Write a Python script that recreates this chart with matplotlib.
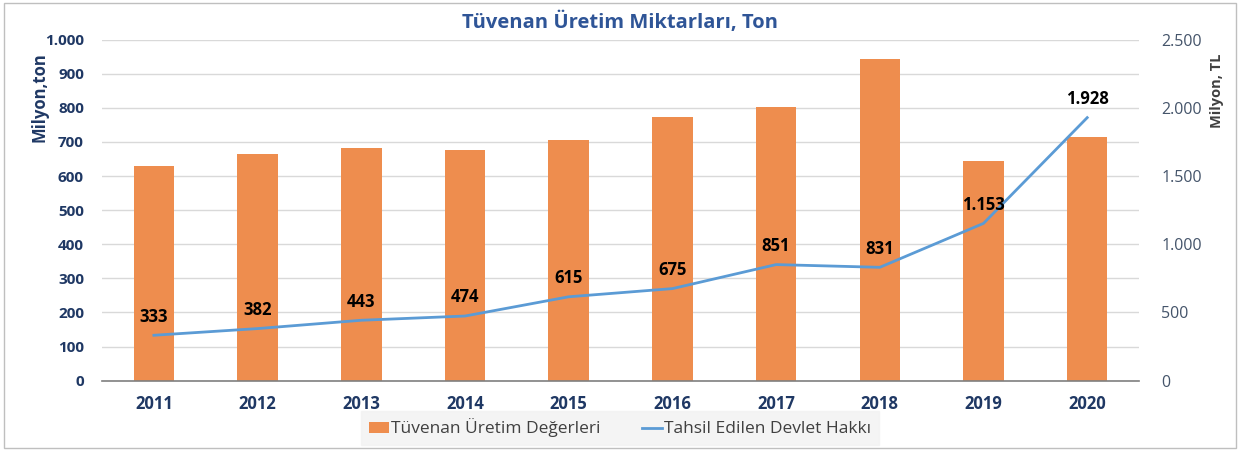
import matplotlib
matplotlib.use('Agg')
import matplotlib.pyplot as plt
from matplotlib.ticker import FuncFormatter
import numpy as np

plt.rcParams['font.family'] = ['Open Sans', 'DejaVu Sans']

years = ['2011', '2012', '2013', '2014', '2015', '2016', '2017', '2018', '2019', '2020']
uretim = [628, 665, 681, 675, 706, 772, 803, 943, 643, 713]
devlet_hakki = [333, 382, 443, 474, 615, 675, 851, 831, 1153, 1928]

BAR_C = '#EE8D4E'
LINE_C = '#5B9BD5'
NAVY = '#1F3864'
TITLE_C = '#2F5597'

def tr_fmt(v, pos=None):
    return f'{int(round(v)):,}'.replace(',', '.')

fig = plt.figure(figsize=(12.4, 4.5), dpi=100)
ax = fig.add_axes([0.0823, 0.154, 0.8363, 0.758])
ax2 = ax.twinx()

x = np.arange(len(years))
bars = ax.bar(x, uretim, width=0.39, color=BAR_C, zorder=2, label='Tüvenan Üretim Değerleri')
line, = ax2.plot(x, devlet_hakki, color=LINE_C, lw=2, zorder=3, label='Tahsil Edilen Devlet Hakkı')

ax.set_xlim(-0.5, len(years) - 0.5)
ax.set_ylim(0, 1000)
ax.set_yticks(range(0, 1001, 100))
ax2.set_ylim(0, 2500)
ax2.set_yticks(range(0, 2501, 500))
ax.yaxis.set_major_formatter(FuncFormatter(tr_fmt))
ax2.yaxis.set_major_formatter(FuncFormatter(tr_fmt))

ax.grid(axis='y', color='#D9D9D9', lw=1, zorder=0)
ax.set_axisbelow(True)
for s in ['top', 'left', 'right']:
    ax.spines[s].set_visible(False)
    ax2.spines[s].set_visible(False)
ax.spines['bottom'].set_color('#7F7F7F')
ax.spines['bottom'].set_linewidth(1.2)
ax2.spines['bottom'].set_visible(False)

ax.set_xticks(x)
ax.set_xticklabels(years)
ax.tick_params(axis='x', length=0, pad=10, labelsize=12, labelcolor=NAVY)
ax.tick_params(axis='y', length=0, pad=13, labelsize=11, labelcolor=NAVY)
ax2.tick_params(axis='y', length=0, pad=16, labelsize=11.5, labelcolor='#44546A')
for lab in ax.get_xticklabels() + ax.get_yticklabels():
    lab.set_fontweight('bold')

ax.set_ylabel('Milyon,ton', fontsize=12, fontweight='bold', color=NAVY)
ax.yaxis.set_label_coords(-0.052, 0.83)
ax2.set_ylabel('Milyon, TL', fontsize=10.5, fontweight='bold', color='#404040')
ax2.yaxis.set_label_coords(1.068, 0.85)

for xi, v in zip(x, devlet_hakki):
    ax2.annotate(tr_fmt(v), (xi, v), xytext=(0, 7), textcoords='offset points',
                 ha='center', va='bottom', fontsize=12, fontweight='bold', color='black')

fig.text(0.5, 0.951, 'Tüvenan Üretim Miktarları, Ton', ha='center', va='center',
         fontsize=14.5, fontweight='bold', color=TITLE_C)

leg = fig.legend(handles=[bars, line], loc='center', bbox_to_anchor=(0.5, 0.049), ncol=2,
                 frameon=True, fontsize=12.5, handlelength=1.15, handleheight=0.57,
                 columnspacing=2.4, handletextpad=0.1, borderpad=0.15,
                 borderaxespad=0)
leg.get_frame().set_facecolor('#F2F2F2')
leg.get_frame().set_edgecolor('#F2F2F2')
leg.get_frame().set_boxstyle('square')
for t in leg.get_texts():
    t.set_color('#404040')

fig.patches.append(plt.Rectangle((0.003, 0.004), 0.994, 0.99, transform=fig.transFigure,
                                 fill=False, edgecolor='#BFBFBF', lw=1))

fig.savefig('out.png', dpi=100, facecolor='white')
plt.close()
